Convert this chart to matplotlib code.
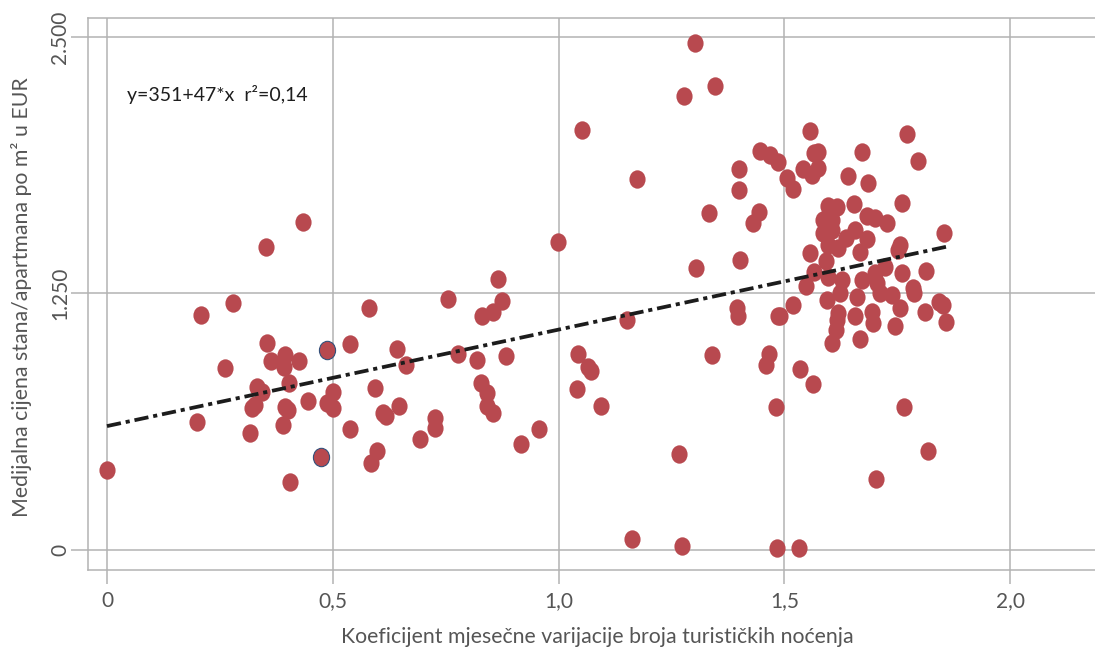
import numpy as np
import matplotlib
matplotlib.use("Agg")
import matplotlib.pyplot as plt
from matplotlib.path import Path
from matplotlib.transforms import Affine2D

plt.rcParams['font.family'] = ['Lato', 'DejaVu Sans']

# Koeficijent mjesecne varijacije (x) i medijalna cijena po m2 (y)
x_vals = [
    0.0, 0.199, 0.208, 0.279, 0.261, 0.317, 0.321, 0.328, 0.332, 0.343,
    0.352, 0.354, 0.363, 0.394, 0.392, 0.425, 0.434, 0.403, 0.445, 0.394,
    0.401, 0.390, 0.405, 0.487, 0.501, 0.501, 0.538, 0.580, 0.755,
    0.866, 0.875, 0.855, 0.831, 0.999, 0.642, 0.662, 0.777, 0.819, 0.884,
    0.594, 0.611, 0.618, 0.647, 0.538, 0.726, 0.726, 0.693, 0.598, 0.585,
    0.828, 0.842, 0.842, 0.855, 0.917, 0.957,
    1.302, 1.347, 1.278, 1.052, 1.174, 1.446, 1.468, 1.486, 1.400, 1.400,
    1.333, 1.444, 1.431, 1.402, 1.305, 1.152, 1.395, 1.398, 1.486, 1.043,
    1.065, 1.072, 1.041, 1.094, 1.340, 1.466, 1.460, 1.535, 1.564, 1.482,
    1.267, 1.163, 1.274, 1.484, 1.533, 1.765, 1.818, 1.703,
    1.548, 1.519, 1.491, 1.595, 1.623, 1.661, 1.619, 1.617, 1.615, 1.606,
    1.657, 1.694, 1.697, 1.668, 1.712, 1.739, 1.756, 1.745, 1.787, 1.812,
    1.843, 1.852, 1.858, 1.557, 1.772, 1.796, 1.672, 1.575, 1.566, 1.542,
    1.575, 1.562, 1.506, 1.519, 1.641, 1.685, 1.761, 1.655, 1.597, 1.617,
    1.586, 1.606, 1.683, 1.701, 1.728, 1.586, 1.606, 1.657, 1.683, 1.637,
    1.597, 1.619, 1.557, 1.668, 1.592, 1.756, 1.752, 1.854, 1.566, 1.597,
    1.628, 1.672, 1.701, 1.723, 1.761, 1.814, 1.705, 1.785,
]
y_vals = [
    390, 624, 1145, 1204, 887, 570, 692, 707, 794, 770,
    1477, 1009, 921, 950, 892, 921, 1598, 814, 726, 697,
    682, 609, 331, 716, 692, 770, 1004, 1179, 1223,
    1321, 1213, 1160, 1140, 1501, 979, 902, 955, 926, 945,
    789, 668, 653, 702, 590, 643, 595, 541, 482, 424,
    814, 765, 702, 668, 517, 590,
    2471, 2261, 2212, 2047, 1808, 1944, 1925, 1891, 1857, 1754,
    1642, 1647, 1593, 1413, 1374, 1121, 1179, 1140, 1140, 955,
    892, 872, 785, 702, 950, 955, 902, 882, 809, 697,
    468, 54, 19, 10, 10, 697, 482, 346,
    1286, 1194, 1140, 1218, 1252, 1233, 1155, 1121, 1072, 1009,
    1140, 1160, 1106, 1028, 1252, 1243, 1179, 1092, 1252, 1160,
    1209, 1194, 1111, 2042, 2027, 1896, 1939, 1939, 1935, 1857,
    1861, 1827, 1813, 1759, 1823, 1788, 1691, 1686, 1676, 1671,
    1608, 1608, 1628, 1618, 1593, 1545, 1559, 1559, 1516, 1520,
    1486, 1472, 1447, 1452, 1408, 1486, 1462, 1545, 1355, 1330,
    1316, 1316, 1350, 1379, 1350, 1360, 1301, 1277,
]
# two points drawn with a blue outline
x_marked = [0.474, 0.487]
y_marked = [453, 975]

reg_intercept = 604
reg_slope = 470

x_ticks = [0, 0.5, 1.0, 1.5, 2.0]
x_ticklabels = ['0', '0,5', '1,0', '1,5', '2,0']
y_ticks = [0, 1250, 2500]
y_ticklabels = ['0', '1.250', '2.500']

point_color = '#b8494f'
grid_color = '#b3b3b3'
text_color = '#555555'

# elliptical marker, a bit taller than wide
ellipse = Path.unit_circle().transformed(Affine2D().scale(0.88, 1.0))

fig = plt.figure(figsize=(10.95, 6.49), dpi=100)
ax = fig.add_axes([88 / 1095, 79 / 649, 1 - 88 / 1095, 552 / 649])

ax.scatter(x_vals, y_vals, s=175, marker=ellipse, color=point_color,
           linewidths=0, zorder=3)
ax.scatter(x_marked, y_marked, s=175, marker=ellipse, color=point_color,
           edgecolors='#34507a', linewidths=0.8, zorder=3)

xs = np.array([0.0, max(x_vals)])
line, = ax.plot(xs, reg_intercept + reg_slope * xs, color='#1c1c1c',
                lw=2.7, zorder=4, dash_capstyle='butt')
line.set_dashes((3.8, 1.3, 1.1, 1.3))

ax.text(0.045, 2190, 'y=351+47*x  r²=0,14', fontsize=14, color='#1e1e1e')

ax.set_xlim(-0.042, 2.188)
ax.set_ylim(-97, 2592)
ax.set_xticks(x_ticks)
ax.set_xticklabels(x_ticklabels)
ax.set_yticks(y_ticks)
ax.set_yticklabels(y_ticklabels, rotation=90, va='center')

ax.grid(True, color=grid_color, lw=1.1, zorder=0)
ax.set_axisbelow(True)
ax.tick_params(axis='x', length=10, width=1.1, color=grid_color,
               labelsize=15, labelcolor=text_color, pad=5)
ax.tick_params(axis='y', length=12, width=1.1, color=grid_color,
               labelsize=15, labelcolor=text_color, pad=1)
for side in ['left', 'top', 'bottom']:
    ax.spines[side].set_color(grid_color)
    ax.spines[side].set_linewidth(1.1)
ax.spines['right'].set_visible(False)

fig.text(597 / 1095, 1 - 637 / 649,
         'Koeficijent mjesečne varijacije broja turističkih noćenja',
         ha='center', va='center', fontsize=15.3, color=text_color)
fig.text(22 / 1095, 1 - 297 / 649,
         'Medijalna cijena stana/apartmana po m² u EUR',
         ha='center', va='center', rotation=90, fontsize=15.3, color=text_color)

fig.savefig('out.png', dpi=100)
